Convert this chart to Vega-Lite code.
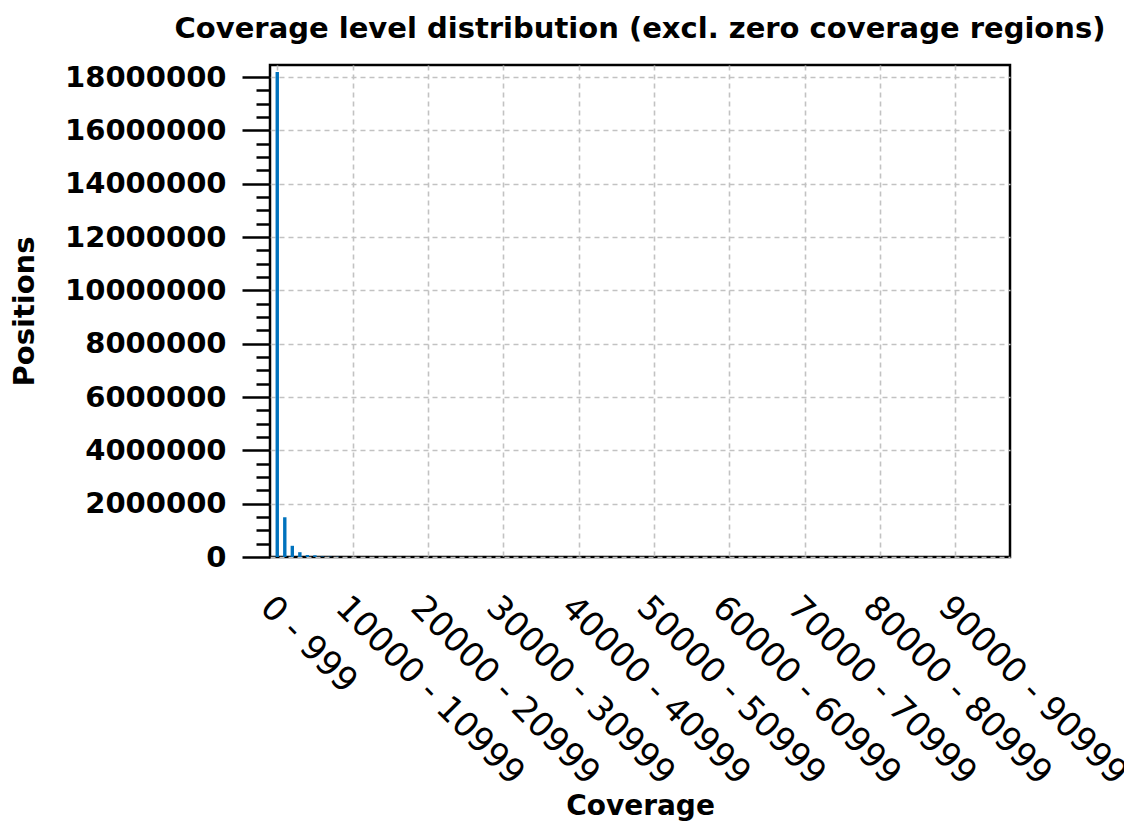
{
  "$schema": "https://vega.github.io/schema/vega-lite/v6.json",
  "width": 740,
  "height": 492,
  "autosize": "none",
  "padding": {"left": 270, "top": 65, "right": 114, "bottom": 267},
  "background": "white",
  "title": {
    "text": "Coverage level distribution (excl. zero coverage regions)",
    "font": "DejaVu Sans",
    "fontSize": 29,
    "fontWeight": "bold",
    "color": "black",
    "anchor": "middle",
    "offset": 19
  },
  "config": {
    "view": {"stroke": "black", "strokeWidth": 2.5},
    "font": "DejaVu Sans",
    "axis": {
      "gridColor": "#c2c2c2",
      "gridDash": [5, 4],
      "gridWidth": 1.6,
      "tickColor": "black",
      "labelColor": "black",
      "titleColor": "black"
    }
  },
  "data": {
    "values": [
      {"idx": 0, "bin": "0 - 999", "positions": 18190000},
      {"idx": 1, "bin": "1000 - 1999", "positions": 1490000},
      {"idx": 2, "bin": "2000 - 2999", "positions": 420000},
      {"idx": 3, "bin": "3000 - 3999", "positions": 180000},
      {"idx": 4, "bin": "4000 - 4999", "positions": 75000},
      {"idx": 5, "bin": "5000 - 5999", "positions": 65000},
      {"idx": 6, "bin": "6000 - 6999", "positions": 20000},
      {"idx": 7, "bin": "7000 - 7999", "positions": 12000},
      {"idx": 8, "bin": "8000 - 8999", "positions": 8000}
    ]
  },
  "layer": [
    {
      "mark": {"type": "bar", "color": "#0072bd", "size": 3.4},
      "encoding": {
        "x": {
          "field": "idx",
          "type": "quantitative",
          "scale": {"domain": [-0.3, 96.6], "nice": false, "zero": false},
          "axis": {
            "values": [0, 10, 20, 30, 40, 50, 60, 70, 80, 90],
            "labelExpr": "(datum.value*1000) + ' - ' + (datum.value*1000 + 999)",
            "labelAngle": 45,
            "labelAlign": "left",
            "labelBaseline": "top",
            "labelFontSize": 34,
            "labelFontWeight": "normal",
            "labelPadding": 33,
            "labelLimit": 0,
            "labelOverlap": false,
            "labelFlush": false,
            "labelBound": false,
            "ticks": false,
            "domain": false,
            "grid": true,
            "title": "Coverage",
            "titleFontSize": 28,
            "titleFontWeight": "bold",
            "titleBaseline": "alphabetic",
            "titleY": 257
          }
        },
        "y": {
          "field": "positions",
          "type": "quantitative",
          "scale": {"domain": [0, 18450000], "nice": false},
          "axis": {
            "values": [0, 2000000, 4000000, 6000000, 8000000, 10000000, 12000000, 14000000, 16000000, 18000000],
            "format": "d",
            "labelFontSize": 29,
            "labelFontWeight": "bold",
            "labelPadding": 16,
            "tickSize": 28,
            "tickWidth": 2.5,
            "domain": false,
            "grid": true,
            "title": "Positions",
            "titleFontSize": 29,
            "titleFontWeight": "bold",
            "titlePadding": 31
          }
        }
      }
    },
    {
      "mark": {"type": "bar", "opacity": 0, "size": 3.4},
      "encoding": {
        "x": {"field": "idx", "type": "quantitative"},
        "y": {
          "field": "positions",
          "type": "quantitative",
          "axis": {
            "orient": "left",
            "values": [500000, 1000000, 1500000, 2500000, 3000000, 3500000, 4500000, 5000000, 5500000, 6500000, 7000000, 7500000, 8500000, 9000000, 9500000, 10500000, 11000000, 11500000, 12500000, 13000000, 13500000, 14500000, 15000000, 15500000, 16500000, 17000000, 17500000],
            "labels": false,
            "tickSize": 14,
            "tickWidth": 2.5,
            "domain": false,
            "grid": false,
            "title": null
          }
        }
      }
    }
  ],
  "resolve": {"axis": {"y": "independent"}}
}
